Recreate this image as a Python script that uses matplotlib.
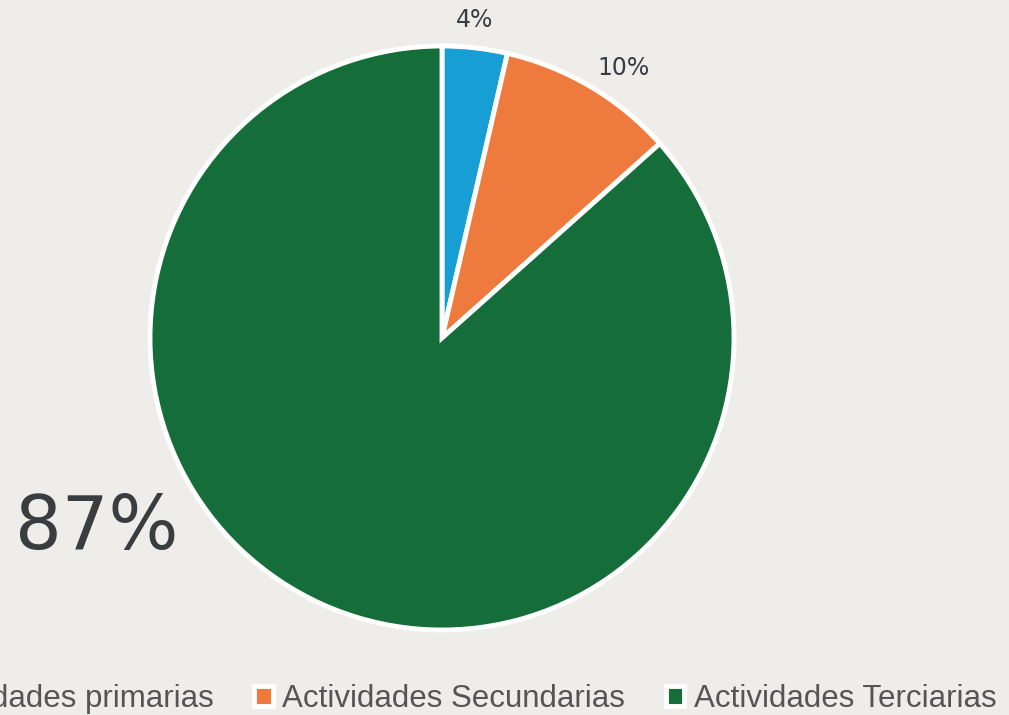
import matplotlib.pyplot as plt
from matplotlib import font_manager

categorias = ['Actividades primarias', 'Actividades Secundarias', 'Actividades Terciarias']
valores = [3.6, 9.8, 86.6]
etiquetas = ['4%', '10%', '87%']
colores = ['#179FD5', '#EE7A3E', '#156E3A']

fondo = '#EEEDE9'
texto = '#3A3D40'

nombres = {f.name for f in font_manager.fontManager.ttflist}
fuente_leyenda = 'Liberation Sans Narrow' if 'Liberation Sans Narrow' in nombres else 'Liberation Sans'

fig = plt.figure(figsize=(10.09, 7.15), dpi=100, facecolor=fondo)
W, H = 1009, 715
cx, cy, r = 442, 338, 292
ax = fig.add_axes([(cx - r) / W, (H - cy - r) / H, 2 * r / W, 2 * r / H])
ax.set_facecolor(fondo)

wedges, _ = ax.pie(valores, colors=colores, startangle=90, counterclock=False,
                   radius=1.0, wedgeprops=dict(edgecolor='white', linewidth=3.5))
ax.set_xlim(-1, 1)
ax.set_ylim(-1, 1)
ax.set_aspect('equal')
ax.axis('off')
for w in wedges:
    w.set_clip_on(False)

# posiciones de las etiquetas (en unidades del radio)
pos = [(0.113, 1.089), (0.623, 0.925), (-1.182, -0.651)]
tam = [17, 17, 53]
for (x, y), t, s in zip(pos, etiquetas, tam):
    ax.text(x, y, t, ha='center', va='center', fontsize=s, color=texto,
            family='DejaVu Sans', clip_on=False)

leg = fig.legend(wedges, categorias, loc='center', bbox_to_anchor=(cx / W, 1 - 699 / H),
                 ncol=3, frameon=False, handlelength=0.6, handleheight=0.6,
                 handletextpad=0.3, columnspacing=1.3,
                 prop={'family': fuente_leyenda, 'size': 22.5})
for t in leg.get_texts():
    t.set_color('#555555')

fig.savefig('out.png', dpi=100, facecolor=fondo)
